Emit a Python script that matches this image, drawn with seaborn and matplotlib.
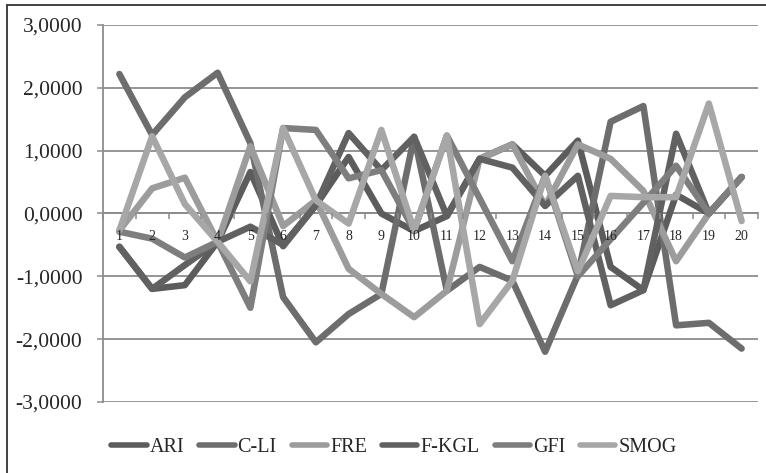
import numpy as np
import pandas as pd
import matplotlib
matplotlib.use("Agg")
import matplotlib.pyplot as plt
import seaborn as sns
from matplotlib.patches import Rectangle
from matplotlib.ticker import FixedLocator, NullFormatter

categories = list(range(1, 21))
series_names = ["ARI", "C-LI", "FRE", "F-KGL", "GFI", "SMOG"]
ari = [-0.53, -1.20, -1.14, -0.45, 0.66, -0.52, 0.13, 0.90, 0.00, -0.28,
       -0.04, 0.87, 1.10, 0.60, 1.16, -0.85, -1.22, 0.30, 0.00, 0.58]
cli = [2.22, 1.25, 1.85, 2.24, 1.12, -1.33, -2.05, -1.60, -1.28, 1.22,
       -1.23, -0.85, -1.07, -2.20, -0.98, 1.46, 1.71, -1.78, -1.74, -2.15]
fre = [-0.27, 0.40, 0.57, -0.45, 1.07, -0.20, 0.21, -0.88, -1.28, -1.65,
       -1.23, 0.87, 1.10, 0.12, 1.10, 0.87, 0.36, -0.76, 0.00, 0.58]
fkgl = [-0.53, -1.20, -0.82, -0.45, -0.21, -0.50, 0.13, 1.28, 0.69, 1.22,
        -0.04, 0.87, 0.73, 0.12, 0.60, -1.46, -1.22, 1.27, 0.00, 0.58]
gfi = [-0.29, -0.40, -0.70, -0.45, -1.50, 1.36, 1.33, 0.56, 0.69, -0.27,
       1.24, 0.24, -0.76, 0.60, -1.00, -0.41, 0.17, 0.76, 0.00, 0.58]
smog = [-0.27, 1.23, 0.15, -0.45, -1.08, 1.36, 0.21, -0.16, 1.33, -0.27,
        1.24, -1.76, -1.07, 0.60, -0.92, 0.28, 0.26, 0.26, 1.75, -0.12]
y_ticks = [-3, -2, -1, 0, 1, 2, 3]

colors = {"ARI": "#5c5c5c", "C-LI": "#6d6d6d", "FRE": "#9c9c9c",
          "F-KGL": "#616161", "GFI": "#7e7e7e", "SMOG": "#a7a7a7"}

values = [ari, cli, fre, fkgl, gfi, smog]
df = pd.concat([pd.DataFrame({"x": categories, "y": v, "series": n})
                for n, v in zip(series_names, values)], ignore_index=True)

sns.set_style("white")
plt.rcParams["font.family"] = ["Liberation Serif", "DejaVu Serif"]
plt.rcParams["lines.solid_joinstyle"] = "round"
plt.rcParams["lines.solid_capstyle"] = "round"

W, H = 766, 473
fig = plt.figure(figsize=(W / 100, H / 100), dpi=100)
ax = fig.add_axes([103 / W, 1 - 402 / H, (758 - 103) / W, (402 - 25) / H])

sns.lineplot(data=df, x="x", y="y", hue="series", hue_order=series_names,
             palette=colors, linewidth=4.7, ax=ax, sort=False)

ax.set_xlim(0.5, 20.5)
ax.set_ylim(-3, 3)
ax.set_xlabel("")
ax.set_ylabel("")

grid_c = "#8c8c8c"
ax.set_yticks(y_ticks)
ax.set_yticklabels([f"{v:.4f}".replace(".", ",") for v in y_ticks], fontsize=15.5)
ax.yaxis.grid(True, color=grid_c, linewidth=1.3)
ax.xaxis.grid(False)
ax.set_axisbelow(True)
ax.tick_params(axis="y", length=4.3, width=1.1, color=grid_c, pad=10.5, left=True)

ax.xaxis.set_major_locator(FixedLocator(np.arange(0.5, 21, 1)))
ax.xaxis.set_major_formatter(NullFormatter())
ax.xaxis.set_minor_locator(FixedLocator(categories))
ax.set_xticklabels([str(c) for c in categories], minor=True, fontsize=14.5)
ax.tick_params(axis="x", which="major", length=4.3, width=1.1, color=grid_c, direction="out", bottom=True)
ax.tick_params(axis="x", which="minor", length=0, pad=12)
ax.xaxis.set_zorder(3)

for s in ["top", "right"]:
    ax.spines[s].set_visible(False)
ax.spines["bottom"].set_position(("data", 0))
ax.spines["bottom"].set_color(grid_c)
ax.spines["bottom"].set_linewidth(1.3)
ax.spines["bottom"].set_zorder(0.5)
ax.spines["left"].set_color(grid_c)
ax.spines["left"].set_linewidth(1.3)

handles, labels = ax.get_legend_handles_labels()
ax.get_legend().remove()
for h in handles:
    h.set_linewidth(4.0)
    h.set_solid_capstyle("round")
fig.legend(handles, labels, loc="center", bbox_to_anchor=(394 / W, 1 - 447 / H),
           ncol=6, frameon=False, fontsize=14.5, handlelength=1.75,
           handletextpad=0.15, columnspacing=0.75, borderpad=0, borderaxespad=0)

fig.patches.append(Rectangle((7 / W, -0.1), 1.2, 1 - 5 / H + 0.1,
                             transform=fig.transFigure, fill=False,
                             edgecolor="#333333", linewidth=1.3))

fig.savefig("out.png", dpi=100)
